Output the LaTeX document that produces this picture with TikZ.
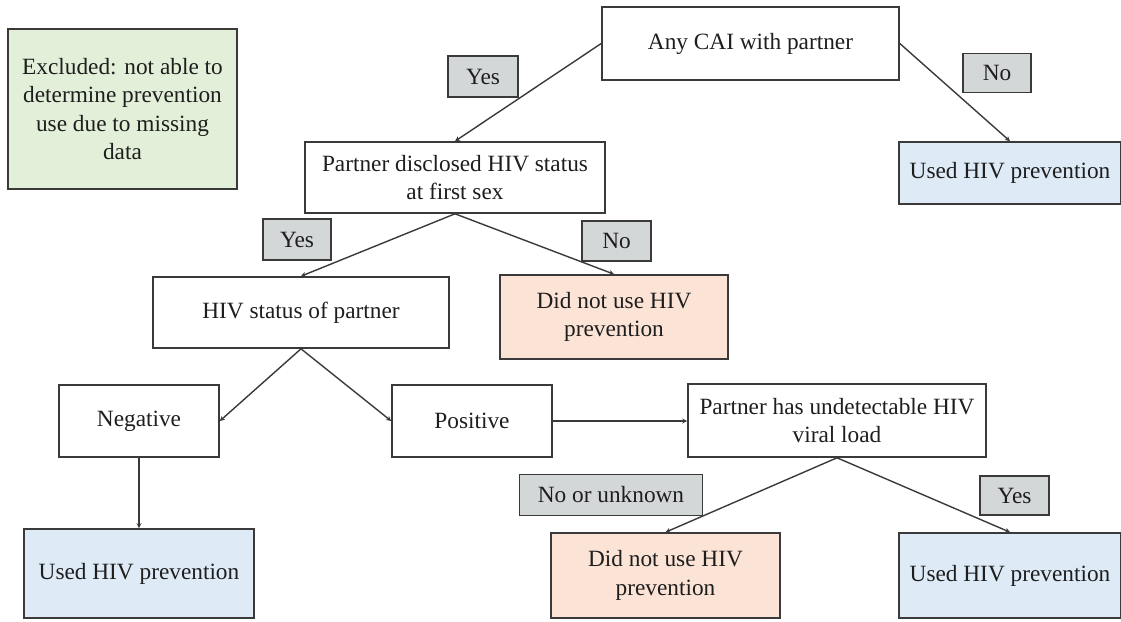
\documentclass[tikz,border=0pt]{standalone}
\usepackage{fontspec}
\setmainfont{Liberation Serif}
\usetikzlibrary{arrows.meta}
\definecolor{bordc}{HTML}{3A3A3A}
\definecolor{greenf}{HTML}{E2F0D9}
\definecolor{bluef}{HTML}{DEEBF7}
\definecolor{orangef}{HTML}{FBE3D5}
\definecolor{grayf}{HTML}{D3D7D7}
\definecolor{txt}{HTML}{1E1E1E}
\tikzset{
  box/.style={draw=bordc, line width=1.6pt, fill=white, inner sep=0pt, align=center,
    text=txt, font=\fontsize{23.3}{28.3}\selectfont},
  lbl/.style={box, fill=grayf},
  conn/.style={draw=bordc, line width=1.4pt, -{Stealth[length=5pt,width=5pt]}}
}
\begin{document}
\begin{tikzpicture}[x=1pt,y=-1pt]
\useasboundingbox (0,0) rectangle (1121,621);
\node[box, fill=greenf, minimum width=229pt, minimum height=160pt] (excl) at (122.5,109) {Excluded: not able to\\determine prevention\\use due to missing\\data};
\node[box, minimum width=297pt, minimum height=73pt] (cai) at (750.5,43.5) {Any CAI with partner};
\node[lbl, minimum width=70pt, minimum height=41pt] (yes1) at (483,76.5) {Yes};
\node[lbl, minimum width=68pt, minimum height=39pt] (no1) at (997,73) {No};
\node[box, minimum width=300pt, minimum height=71pt] (pd) at (455,177.5) {Partner disclosed HIV status\\at first sex};
\node[box, fill=bluef, minimum width=222pt, minimum height=62pt] (used1) at (1010,173) {Used HIV prevention};
\node[lbl, minimum width=68pt, minimum height=41pt] (yes2) at (297,239.5) {Yes};
\node[lbl, minimum width=69pt, minimum height=40pt] (no2) at (616.5,241) {No};
\node[box, minimum width=296pt, minimum height=71pt] (hiv) at (301,312.5) {HIV status of partner};
\node[box, fill=orangef, minimum width=228pt, minimum height=84pt] (dnu1) at (614,317) {Did not use HIV\\prevention};
\node[box, minimum width=160pt, minimum height=72pt] (neg) at (139,421) {Negative};
\node[box, minimum width=160pt, minimum height=72pt] (pos) at (472,421) {Positive};
\node[box, minimum width=298pt, minimum height=73pt] (pu) at (837,420.5) {Partner has undetectable HIV\\viral load};
\node[box, fill=bluef, minimum width=230pt, minimum height=89pt] (used2) at (139,573.5) {Used HIV prevention};
\node[lbl, minimum width=183pt, minimum height=41pt] (nou) at (611,495) {No or unknown};
\node[box, fill=orangef, minimum width=229pt, minimum height=85pt] (dnu2) at (665.5,575.5) {Did not use HIV\\prevention};
\node[lbl, minimum width=69pt, minimum height=39pt] (yes3) at (1014.5,495.5) {Yes};
\node[box, fill=bluef, minimum width=222pt, minimum height=85pt] (used3) at (1010,575.5) {Used HIV prevention};
\draw[conn] (cai.west) -- (pd.north);
\draw[conn] (cai.east) -- (used1.north);
\draw[conn] (pd.south) -- (hiv.north);
\draw[conn] (pd.south) -- (dnu1.north);
\draw[conn] (hiv.south) -- (neg.east);
\draw[conn] (hiv.south) -- (pos.west);
\draw[conn] (neg.south) -- (used2.north);
\draw[conn] (pos.east) -- (pos.east -| pu.west);
\draw[conn] (pu.south) -- (dnu2.north);
\draw[conn] (pu.south) -- (used3.north);
\end{tikzpicture}
\end{document}
